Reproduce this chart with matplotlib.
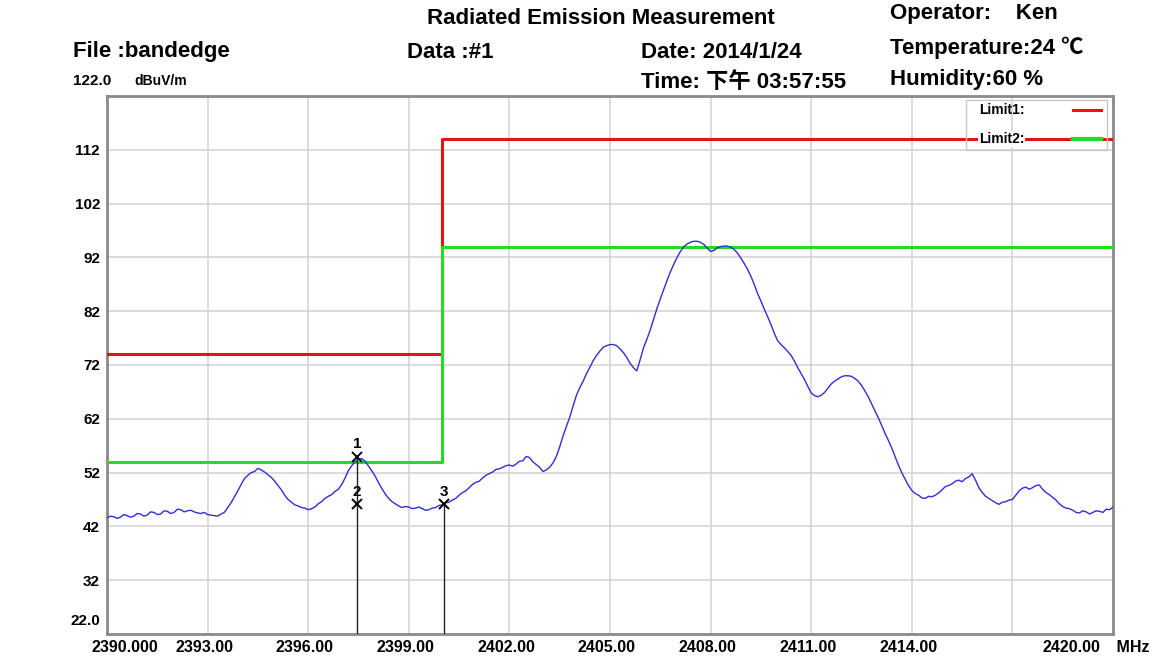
import numpy as np
import matplotlib
matplotlib.use("Agg")
import matplotlib.pyplot as plt

plt.rcParams['font.family'] = ['Liberation Sans', 'Noto Sans CJK SC', 'DejaVu Sans']

# ---------------- data ----------------
freq_start, freq_stop = 2390.0, 2420.0
level = [
    43.6, 43.9, 43.8, 43.5, 43.7, 44.2, 44.0, 43.7, 43.9, 44.4,
    44.3, 43.9, 44.1, 44.7, 44.6, 44.2, 44.3, 44.9, 44.8, 44.4,
    44.6, 45.2, 45.1, 44.7, 44.9, 45.0, 44.7, 44.5, 44.4, 44.6,
    44.2, 44.1, 44.0, 43.9, 44.3, 44.6, 45.5, 46.4, 47.5, 48.6,
    49.8, 50.9, 51.5, 52.0, 52.2, 52.8, 52.5, 52.1, 51.6, 51.1,
    50.4, 49.6, 48.8, 47.8, 47.0, 46.5, 46.0, 45.8, 45.5, 45.4,
    45.1, 45.3, 45.6, 46.2, 46.6, 47.2, 47.6, 47.9, 48.5, 48.9,
    49.8, 51.0, 52.4, 53.3, 54.0, 54.5, 54.6, 54.1, 53.2, 52.3,
    51.3, 50.1, 49.0, 48.0, 47.2, 46.6, 46.2, 45.8, 45.5, 45.7,
    45.6, 45.3, 45.4, 45.6, 45.3, 45.0, 45.1, 45.4, 45.5, 45.9,
    46.0, 46.4, 46.5, 46.9, 47.2, 47.8, 48.3, 48.6, 49.2, 49.8,
    50.2, 50.4, 51.0, 51.5, 51.8, 52.1, 52.6, 52.7, 53.0, 53.3,
    53.4, 53.2, 53.6, 54.1, 54.2, 55.0, 54.8, 54.0, 53.5, 53.0,
    52.2, 52.5, 53.0, 53.8, 55.0, 56.8, 58.8, 60.6, 62.3, 64.4,
    66.4, 67.8, 69.0, 70.4, 71.6, 72.8, 73.8, 74.6, 75.3, 75.6,
    75.8, 75.8, 75.6, 75.0, 74.3, 73.4, 72.3, 71.5, 70.9, 73.0,
    75.2, 76.8, 78.5, 80.5, 82.5, 84.3, 86.0, 87.7, 89.3, 90.7,
    92.0, 93.1, 94.0, 94.5, 94.8, 95.0, 95.0, 94.8, 94.4, 93.7,
    93.1, 93.3, 93.8, 94.0, 94.1, 94.1, 93.9, 93.5, 92.8, 91.9,
    90.9, 89.8, 88.5, 87.0, 85.3, 83.9, 82.4, 81.0, 79.5, 77.9,
    76.5, 75.8, 75.2, 74.5, 73.8, 72.7, 71.5, 70.4, 69.3, 68.0,
    66.8, 66.3, 66.1, 66.4, 66.9, 67.7, 68.5, 69.0, 69.4, 69.8,
    70.0, 70.0, 69.9, 69.5, 69.0, 68.2, 67.2, 66.1, 64.8, 63.5,
    62.2, 60.8, 59.3, 58.0, 56.6, 55.0, 53.4, 52.0, 50.8, 49.6,
    48.7, 48.1, 47.8, 47.3, 47.2, 47.6, 47.5, 47.8, 48.2, 48.8,
    49.4, 49.6, 49.9, 50.4, 50.6, 50.3, 50.9, 51.2, 51.8, 50.6,
    49.2, 48.3, 47.6, 47.2, 46.8, 46.4, 46.1, 46.5, 46.6, 46.9,
    47.0, 47.8, 48.6, 49.1, 49.3, 48.9, 49.2, 49.6, 49.7, 48.9,
    48.3, 47.9, 47.4, 46.9, 46.2, 45.7, 45.4, 45.3, 45.0, 44.6,
    44.5, 44.9, 44.7, 44.3, 44.6, 44.9, 44.8, 44.6, 45.2, 45.1,
    45.6,
]
freq = np.linspace(freq_start, freq_stop, len(level))

limit_edges = [2390.0, 2400.0, 2420.0]
limit1 = [74, 114]
limit2 = [54, 94]

marker_ids = ["1", "2", "3"]
marker_freq = [2397.45, 2397.45, 2400.05]
marker_level = [54.9, 46.1, 46.1]
marker_lines = [0, 2]   # markers with drop lines

y_min, y_max = 22.0, 122.0
ytick_vals = [32, 42, 52, 62, 72, 82, 92, 102, 112]
xtick_vals = [2393, 2396, 2399, 2402, 2405, 2408, 2411, 2414, 2417]
xtick_labels = ["2393.00", "2396.00", "2399.00", "2402.00", "2405.00",
                "2408.00", "2411.00", "2414.00", ""]

# ---------------- figure ----------------
W, H = 1175, 664
fig = plt.figure(figsize=(W / 100, H / 100), dpi=100)
fig.patch.set_facecolor('white')
ax = fig.add_axes([107 / W, 1 - 634 / H, (1113 - 107) / W, (634 - 96) / H])
ax.set_xlim(freq_start, freq_stop)
ax.set_ylim(y_min, y_max)

for s in ax.spines.values():
    s.set_color('#8a8a8a')
    s.set_linewidth(2.0)

ax.set_xticks(xtick_vals)
ax.set_xticklabels([])
ax.set_yticks(ytick_vals)
ax.set_yticklabels([str(v) for v in ytick_vals], fontsize=11, fontweight='bold')
ax.tick_params(length=0, pad=5)
ax.grid(True, color='#d2d2d2', linewidth=1.1)
ax.set_axisbelow(True)

# x labels
for xv, lab in zip(xtick_vals, xtick_labels):
    ax.text(xv - 0.1, -0.012, lab, transform=ax.get_xaxis_transform(),
            ha='center', va='top', fontsize=11.5, fontweight='bold')
ax.text(-0.015, -0.012, "2390.000", transform=ax.transAxes, ha='left', va='top',
        fontsize=11.5, fontweight='bold')
ax.text(0.987, -0.012, "2420.00", transform=ax.transAxes, ha='right', va='top',
        fontsize=11.5, fontweight='bold')
ax.text(0.999, -0.012, " MHz", transform=ax.transAxes, ha='left', va='top',
        fontsize=11.5, fontweight='bold')
ax.text(-0.007, 0.012, "22.0", transform=ax.transAxes, ha='right', va='bottom',
        fontsize=11, fontweight='bold')

# limits
ax.step(limit_edges, limit1 + [limit1[-1]], where='post', color='#e41414', lw=2.2, zorder=3)
ax.step(limit_edges, limit2 + [limit2[-1]], where='post', color='#22dd22', lw=2.2, zorder=3)

# trace
ax.plot(freq, level, color='#2f2fd6', lw=1.0, zorder=4)

# markers
for i in marker_lines:
    ax.plot([marker_freq[i], marker_freq[i]], [y_min, marker_level[i]],
            color='#222222', lw=1.0, zorder=5)
ax.plot(marker_freq, marker_level, linestyle='none', marker='x', color='black',
        markersize=7, markeredgewidth=1.4, zorder=6)
for mid, mf, ml in zip(marker_ids, marker_freq, marker_level):
    ax.annotate(mid, (mf, ml), xytext=(0, 4), textcoords='offset points',
                ha='center', va='bottom', fontsize=11, fontweight='bold', zorder=6)

# legend box
leg_x0, leg_x1 = 966, 1107
fig.patches.append(plt.Rectangle((leg_x0 / W, 1 - 150 / H), (leg_x1 - leg_x0) / W, 50 / H,
                                 transform=fig.transFigure, fill=False,
                                 edgecolor='#c8c8c8', lw=1.0, zorder=10))
fig.text(979 / W, 1 - 110 / H, "Limit1:", ha='left', va='center', fontsize=10, fontweight='bold', zorder=11)
fig.text(979 / W, 1 - 139 / H, "Limit2:", ha='left', va='center', fontsize=10, fontweight='bold', zorder=11,
         bbox=dict(facecolor='white', edgecolor='none', pad=0.5))
fig.lines.append(plt.Line2D([1073 / W, 1101 / W], [1 - 110 / H, 1 - 110 / H],
                            transform=fig.transFigure, color='#e41414', lw=2.2, zorder=11))
fig.lines.append(plt.Line2D([1073 / W, 1101 / W], [1 - 139 / H, 1 - 139 / H],
                            transform=fig.transFigure, color='#22dd22', lw=3.0, zorder=12))

# header
hk = dict(fontsize=16, fontweight='bold', va='center')
fig.text(601 / W, 1 - 18 / H, "Radiated Emission Measurement", ha='center', **hk)
fig.text(890 / W, 1 - 14 / H, "Operator:    Ken", ha='left', **hk)
fig.text(73 / W, 1 - 52 / H, "File :bandedge", ha='left', **hk)
fig.text(407 / W, 1 - 52 / H, "Data :#1", ha='left', **hk)
fig.text(641 / W, 1 - 52 / H, "Date: 2014/1/24", ha='left', **hk)
fig.text(890 / W, 1 - 48 / H, "Temperature:24 \u2103", ha='left', **hk)
fig.text(641 / W, 1 - 82 / H, "Time: 下午 03:57:55", ha='left', **hk)
fig.text(890 / W, 1 - 80 / H, "Humidity:60 %", ha='left', **hk)
fig.text(73 / W, 1 - 81 / H, "122.0", ha='left', va='center', fontsize=11, fontweight='bold')
fig.text(134 / W, 1 - 81 / H, "dBuV/m", ha='left', va='center', fontsize=10, fontweight='bold')

fig.savefig("out.png", dpi=100)
